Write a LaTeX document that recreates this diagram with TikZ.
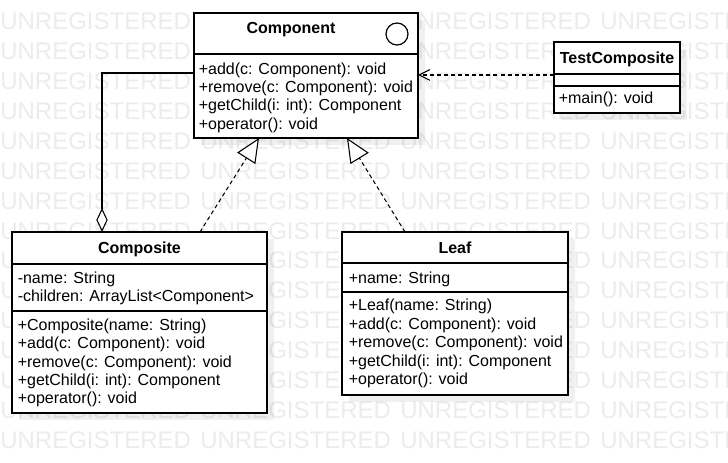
\documentclass[tikz,border=0pt]{standalone}
\usepackage{fontspec}
\setmainfont{Liberation Sans}
\usetikzlibrary{arrows.meta}
\definecolor{wmgray}{RGB}{236,236,236}
\begin{document}
\begin{tikzpicture}[x=0.75pt,y=-0.75pt,
  box/.style={draw=black, line width=0.9pt, fill=white, anchor=north west, inner sep=0pt, outer sep=0pt},
  shadowbox/.style={fill=black, opacity=0.06},
  title/.style={font=\fontsize{12pt}{14pt}\selectfont\bfseries, inner sep=0pt, anchor=base},
  member/.style={font=\fontsize{12pt}{14pt}\selectfont, inner sep=0pt, anchor=base west},
  wm/.style={font=\fontsize{18pt}{18pt}\selectfont, text=wmgray, inner sep=0pt, anchor=base west},
  sepline/.style={line width=0.9pt},
  conn/.style={line width=0.8pt, draw=black},
  dashconn/.style={conn, dash pattern=on 3pt off 2.3pt},
  realize/.style={dashconn, -{Triangle[open, fill=white, length=18pt, width=16pt, line width=0.8pt]}},
  aggr/.style={conn, -{Diamond[open, fill=white, length=18pt, width=8.5pt, line width=0.8pt]}},
  depend/.style={dashconn, -{Straight Barb[length=8pt, width=8pt, line width=0.8pt]}}
]
\useasboundingbox (0,0) rectangle (728,463);
\fill[white] (0,0) rectangle (728,463);
\begin{scope}
\clip (0,0) rectangle (728,463);
\foreach \r in {0,...,14}{
  \foreach \c in {0,...,3}{
    \node[wm] (wm-\r-\c) at (\c*200, 30+\r*29.86) {UNREGISTERED};
  }
}
\end{scope}

% shadows
\fill[shadowbox] (201,20) rectangle (425,145);
\fill[shadowbox] (561,49) rectangle (687,120);
\fill[shadowbox] (19,239) rectangle (274,420);
\fill[shadowbox] (349,239) rectangle (575,402);

% Component
\node[box, minimum width=224*0.75pt, minimum height=125*0.75pt] (comp) at (194,13) {};
\draw[sepline] (194,54) -- (418,54);
\node[title] (comp-t) at (291,34) {Component};
\node[circle, draw, line width=0.9pt, minimum size=16.5pt, inner sep=0pt] (comp-icon) at (397,34) {};
\node[member] (comp-m1) at (198.5,74.5) {+add(c: Component): void};
\node[member] (comp-m2) at (198.5,92.5) {+remove(c: Component): void};
\node[member] (comp-m3) at (198.5,110.8) {+getChild(i: int): Component};
\node[member] (comp-m4) at (198.5,129.3) {+operator(): void};

% TestComposite
\node[box, minimum width=126*0.75pt, minimum height=71*0.75pt] (test) at (554,42) {};
\draw[sepline] (554,74) -- (680,74);
\draw[sepline] (554,86) -- (680,86);
\node[title] (test-t) at (617,64) {TestComposite};
\node[member] (test-m1) at (558.5,103.5) {+main(): void};

% Composite
\node[box, minimum width=255*0.75pt, minimum height=181*0.75pt] (compo) at (12,232) {};
\draw[sepline] (12,264) -- (267,264);
\draw[sepline] (12,311) -- (267,311);
\node[title] (compo-t) at (139.5,254) {Composite};
\node[member] (compo-a1) at (17.5,283.5) {-name: String};
\node[member] (compo-a2) at (17.5,301.5) {-children: ArrayList<Component>};
\node[member] (compo-m1) at (17.5,330.5) {+Composite(name: String)};
\node[member] (compo-m2) at (17.5,348.8) {+add(c: Component): void};
\node[member] (compo-m3) at (17.5,367.3) {+remove(c: Component): void};
\node[member] (compo-m4) at (17.5,385.6) {+getChild(i: int): Component};
\node[member] (compo-m5) at (17.5,403.8) {+operator(): void};

% Leaf
\node[box, minimum width=226*0.75pt, minimum height=163*0.75pt] (leaf) at (342,232) {};
\draw[sepline] (342,263) -- (568,263);
\draw[sepline] (342,292) -- (568,292);
\node[title] (leaf-t) at (455,254) {Leaf};
\node[member] (leaf-a1) at (348.5,283.5) {+name: String};
\node[member] (leaf-m1) at (348.5,310.5) {+Leaf(name: String)};
\node[member] (leaf-m2) at (348.5,329.3) {+add(c: Component): void};
\node[member] (leaf-m3) at (348.5,347.6) {+remove(c: Component): void};
\node[member] (leaf-m4) at (348.5,366.2) {+getChild(i: int): Component};
\node[member] (leaf-m5) at (348.5,384.5) {+operator(): void};

% helper coordinates
\coordinate (aggy) at (0,73);
\coordinate (aggx) at (102,0);
\coordinate (depy) at (0,75);
\coordinate (cr1) at (200,0);
\coordinate (cr2) at (259,0);
\coordinate (lr1) at (405,0);
\coordinate (lr2) at (347,0);

% connectors
\draw[aggr] (comp.west |- aggy) -| (compo.north -| aggx);
\draw[realize] (compo.north -| cr1) -- (comp.south -| cr2);
\draw[realize] (leaf.north -| lr1) -- (comp.south -| lr2);
\draw[depend] (test.west |- depy) -- (comp.east |- depy);
\end{tikzpicture}
\end{document}
